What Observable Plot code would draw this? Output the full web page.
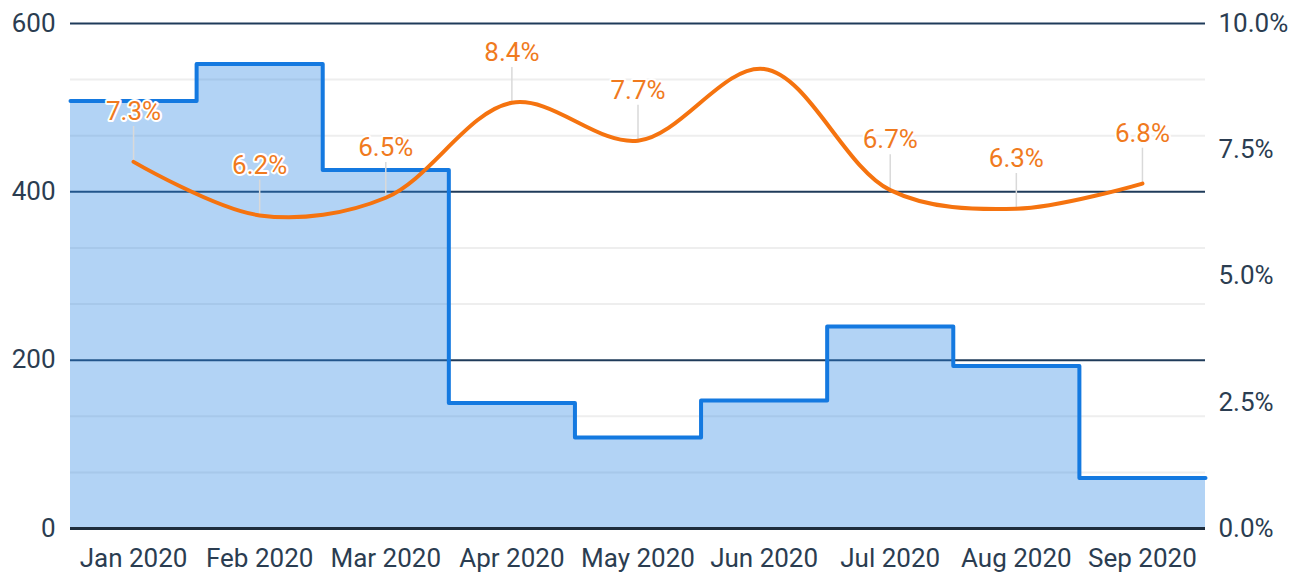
<!DOCTYPE html>
<html><head><meta charset="utf-8">
<script src="https://cdn.jsdelivr.net/npm/d3@7"></script>
<script src="https://cdn.jsdelivr.net/npm/@observablehq/plot@0.6"></script>
<style>body{margin:0;background:#fff;font-family:Roboto,sans-serif}</style>
</head><body><div id="chart"></div>
<script>
const months = ["Jan 2020","Feb 2020","Mar 2020","Apr 2020","May 2020","Jun 2020","Jul 2020","Aug 2020","Sep 2020"];
const volumes = [508, 552, 426, 149, 108, 152, 240, 193, 60];
const rates = [7.26, 6.2, 6.55, 8.43, 7.68, 9.1, 6.7, 6.33, 6.83];
const rateLabels = ["7.3%","6.2%","6.5%","8.4%","7.7%",null,"6.7%","6.3%","6.8%"];
const leftTicks = [0, 200, 400, 600];
const rightTicks = [0, 2.5, 5, 7.5, 10];
const minorTicks = [200/3, 400/3, 800/3, 1000/3, 1400/3, 1600/3];
const RATE_TO_LEFT = 60; // 10% maps to 600

const steps = volumes.map((v, i) => ({x: i, v}));
steps.push({x: volumes.length, v: volumes[volumes.length - 1]});
const ratePts = rates.map((r, i) => ({x: i + 0.5, y: r * RATE_TO_LEFT, label: rateLabels[i]}));
const labeled = ratePts.filter(d => d.label);

const chart = Plot.plot({
  width: 1304, height: 575,
  marginLeft: 70, marginRight: 99, marginTop: 23, marginBottom: 47,
  x: {domain: [0, months.length], axis: null},
  y: {domain: [0, 600], axis: null},
  style: {fontFamily: "Roboto, sans-serif", fontSize: "26px", color: "#2b3d51", background: "#fff"},
  marks: [
    Plot.ruleY(minorTicks, {stroke: "#eeeeee", strokeWidth: 2}),
    Plot.ruleY([200, 400, 600], {stroke: "#1f3b5a", strokeWidth: 2}),
    Plot.areaY(steps, {x: "x", y: "v", curve: "step-after", fill: "#2a86e3", fillOpacity: 0.36}),
    Plot.lineY(steps, {x: "x", y: "v", curve: "step-after", stroke: "#1479e0", strokeWidth: 4, strokeLinejoin: "round", strokeLinecap: "round"}),
    Plot.ruleY([0], {stroke: "#1e2d3d", strokeWidth: 3}),
    Plot.axisY({ticks: leftTicks, anchor: "left", tickSize: 0, tickPadding: 15, fontSize: 26, label: null, tickFormat: d => String(d)}),
    Plot.axisY({ticks: rightTicks.map(t => t * RATE_TO_LEFT), anchor: "right", tickSize: 0, tickPadding: 13, fontSize: 26, label: null, tickFormat: d => (d / RATE_TO_LEFT).toFixed(1) + "%"}),
    Plot.axisX({ticks: months.map((m, i) => i + 0.5), anchor: "bottom", tickSize: 0, tickPadding: 20, fontSize: 26, label: null, tickFormat: d => months[Math.floor(d)]}),
    Plot.ruleX(labeled, {x: "x", y1: "y", y2: d => d.y + 42, stroke: "#d9d9d9", strokeWidth: 1.5}),
    Plot.line(ratePts, {x: "x", y: "y", curve: "catmull-rom", stroke: "#f5730f", strokeWidth: 4, strokeLinecap: "round"}),
    Plot.text(labeled, {x: "x", y: "y", text: "label", dy: -50, fill: "#f07a1e", stroke: "white", strokeWidth: 4, fontSize: 26, textAnchor: "middle", lineAnchor: "middle"})
  ]
});
document.getElementById("chart").appendChild(chart);
</script>
</body></html>
